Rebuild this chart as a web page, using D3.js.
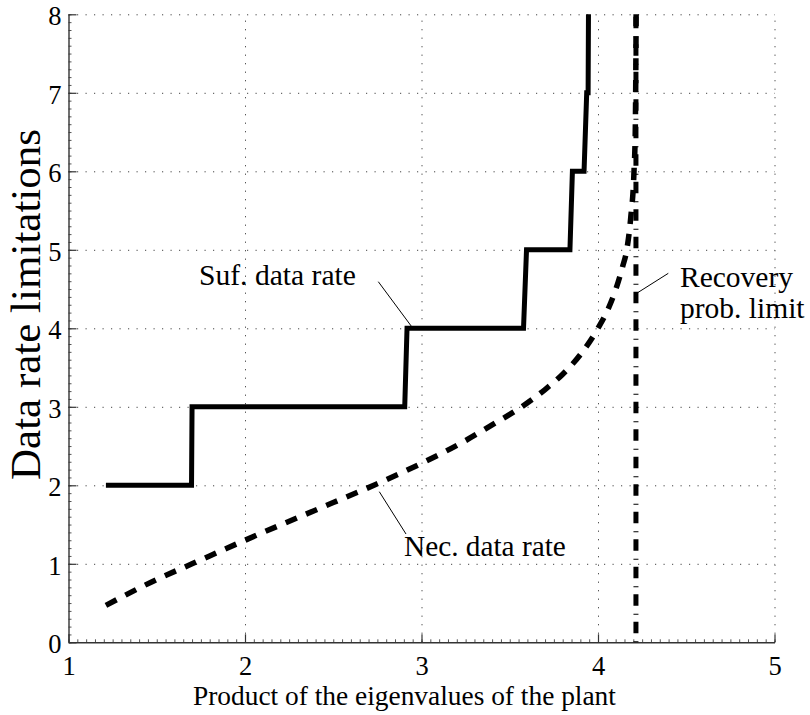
<!DOCTYPE html>
<html>
<head>
<meta charset="utf-8">
<script src="https://cdn.jsdelivr.net/npm/d3@7"></script>
<style>
  html, body { margin: 0; padding: 0; background: #fff; }
  svg { display: block; }
  text { font-family: "Liberation Serif", "Times New Roman", serif; fill: #000; }
</style>
</head>
<body>
<svg id="chart" width="810" height="715"></svg>
<script>
// Product of the eigenvalues of the plant (x) vs. data rate limits (y)
const xTicks = [1, 2, 3, 4, 5];
const yTicks = [0, 1, 2, 3, 4, 5, 6, 7, 8];

// Sufficient data rate (staircase)
const sufX = [1.212, 1.697, 1.700, 2.905, 2.918, 3.578, 3.595, 3.841, 3.855, 3.921, 3.936, 3.944, 3.946];
const sufY = [2, 2, 3, 3, 4, 4, 5, 5, 6, 6, 7, 7, 8];

// Necessary data rate (smooth curve)
const necX = [1.212, 1.5, 1.70, 2.0, 2.5, 2.74, 3.0, 3.25, 3.40, 3.568, 3.70, 3.80, 3.90, 4.0, 4.05, 4.10, 4.14, 4.163, 4.185, 4.204, 4.211, 4.214, 4.216];
const necY = [0.47, 0.80, 1.0, 1.30, 1.78, 2.01, 2.28, 2.57, 2.77, 3.0, 3.22, 3.415, 3.665, 4.0, 4.21, 4.49, 4.79, 5.0, 5.4, 6.0, 6.5, 7.2, 8.0];

// Recovery probability limit (vertical line)
const limitX = [4.215, 4.215];
const limitY = [0, 8];

const svg = d3.select("#chart");
const x = d3.scaleLinear().domain([1, 5]).range([68.5, 774.5]);
const y = d3.scaleLinear().domain([0, 8]).range([642.3, 14.3]);
const plotH = y(0) - y(8);
const plotW = x(5) - x(1);

// dotted grid
const gridX = svg.append("g").attr("transform", `translate(0,${y(0)})`)
  .call(d3.axisBottom(x).tickValues(xTicks.slice(1)).tickSize(-plotH).tickFormat(""));
const gridY = svg.append("g").attr("transform", `translate(${x(1)},0)`)
  .call(d3.axisLeft(y).tickValues(yTicks.slice(1)).tickSize(-plotW).tickFormat(""));
[gridX, gridY].forEach(g => {
  g.select(".domain").remove();
  g.selectAll("line").attr("stroke", "#444").attr("stroke-width", 1).attr("stroke-dasharray", "1.2,7.3");
});

// minor ticks
const minorX = svg.append("g").attr("transform", `translate(0,${y(0)})`)
  .call(d3.axisBottom(x).tickValues(d3.range(1, 5.0001, 0.05)).tickSize(-3).tickFormat(""));
const minorY = svg.append("g").attr("transform", `translate(${x(1)},0)`)
  .call(d3.axisLeft(y).tickValues(d3.range(0, 8.0001, 0.1)).tickSize(-3).tickFormat(""));
[minorX, minorY].forEach(g => {
  g.select(".domain").remove();
  g.selectAll("line").attr("stroke", "#555").attr("stroke-width", 1);
});

// major axes
const axX = svg.append("g").attr("transform", `translate(0,${y(0)})`)
  .call(d3.axisBottom(x).tickValues(xTicks).tickSize(-8).tickPadding(14).tickSizeOuter(0).tickFormat(d3.format("d")));
const axY = svg.append("g").attr("transform", `translate(${x(1)},0)`)
  .call(d3.axisLeft(y).tickValues(yTicks).tickSize(-8).tickPadding(7).tickSizeOuter(0).tickFormat(d3.format("d")));
[axX, axY].forEach(g => {
  g.select(".domain").attr("stroke", "#333").attr("stroke-width", 1.4);
  g.selectAll(".tick line").attr("stroke", "#333").attr("stroke-width", 1.2);
  g.selectAll(".tick text").style("font-family", "'Liberation Serif', 'Times New Roman', serif")
    .style("font-size", "26.5px").attr("fill", "#000");
});
axY.selectAll(".tick text").attr("dy", "0.4em");

// axis titles
svg.append("text").attr("x", 193).attr("y", 705)
  .style("font-size", "27.4px")
  .text("Product of the eigenvalues of the plant");
svg.append("text").attr("transform", "translate(40,480) rotate(-90)")
  .attr("text-anchor", "start").style("font-size", "43px")
  .text("Data rate limitations");

const line = d3.line().x(d => x(d[0])).y(d => y(d[1]));

// recovery probability limit: dash-dot
svg.append("path").datum(d3.zip(limitX, limitY))
  .attr("d", line).attr("fill", "none").attr("stroke", "#000")
  .attr("stroke-width", 5).attr("stroke-dasharray", "1,8,11.5,7");

// necessary data rate: dashed
svg.append("path").datum(d3.zip(necX, necY))
  .attr("d", d3.line().x(d => x(d[0])).y(d => y(d[1])).curve(d3.curveMonotoneX))
  .attr("fill", "none").attr("stroke", "#000")
  .attr("stroke-width", 5.5).attr("stroke-dasharray", "12,10");

// sufficient data rate: solid staircase
svg.append("path").datum(d3.zip(sufX, sufY))
  .attr("d", line).attr("fill", "none").attr("stroke", "#000")
  .attr("stroke-width", 5).attr("stroke-linejoin", "miter");

// annotations with leader lines
const notes = [
  { lines: ["Suf. data rate"], size: 29.6, tx: 199, ty: 285, from: [378.3, 281.7], to: [411.7, 326.7] },
  { lines: ["Nec. data rate"], size: 29.3, tx: 404, ty: 556, from: [406, 534], to: [379.3, 491.7] },
  { lines: ["Recovery", "prob. limit"], size: 29.5, tx: 680, ty: 287, from: [668.3, 273.3], to: [634, 295] }
];
notes.forEach(n => {
  svg.append("line").attr("x1", n.from[0]).attr("y1", n.from[1]).attr("x2", n.to[0]).attr("y2", n.to[1])
    .attr("stroke", "#000").attr("stroke-width", 1);
  const t = svg.append("text").attr("x", n.tx).attr("y", n.ty).style("font-size", n.size + "px");
  n.lines.forEach((s, i) => t.append("tspan").attr("x", n.tx).attr("dy", i === 0 ? 0 : 31).text(s));
});
</script>
</body>
</html>
